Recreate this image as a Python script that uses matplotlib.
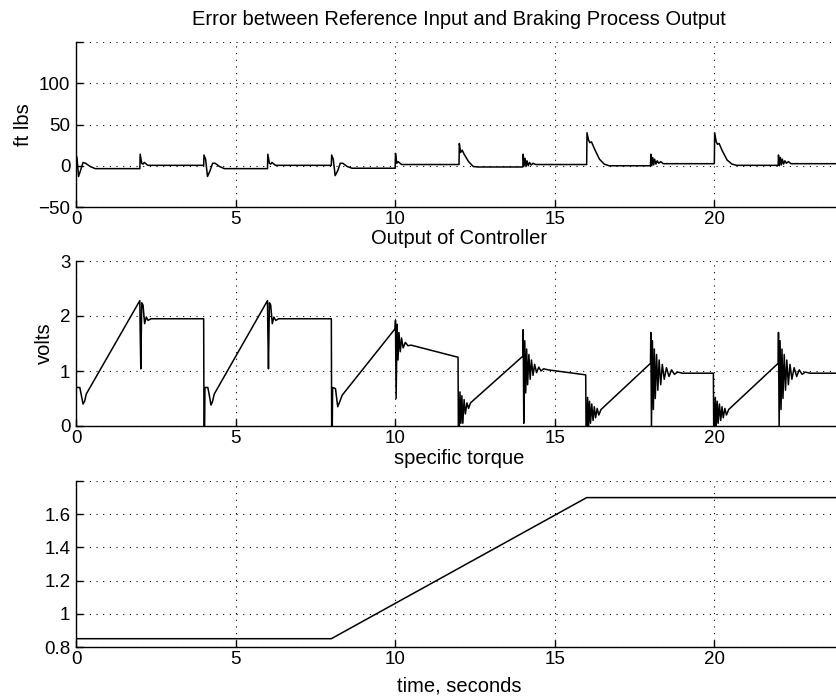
import matplotlib

matplotlib.use("Agg")
import matplotlib.pyplot as plt

# --- data ----------------------------------------------------------------

# error between reference input and braking process output (ft lbs)
ERR_T = [
    0.00, 0.03, 0.08, 0.14, 0.22, 0.30, 0.45, 0.60, 2.00, 2.01, 2.06, 2.10, 2.14, 2.25,
    4.00, 4.01, 4.06, 4.12, 4.20, 4.28, 4.36, 4.50, 4.65, 6.00, 6.01, 6.06, 6.10, 6.14, 6.25,
    8.00, 8.01, 8.06, 8.12, 8.20, 8.28, 8.36, 8.50, 8.65, 10.00, 10.01, 10.05, 10.09, 10.20,
    12.00, 12.01, 12.05, 12.10, 12.16, 12.30, 12.45, 12.60,
    14.00, 14.01, 14.04, 14.07, 14.10, 14.13, 14.17, 14.21, 14.26, 14.32, 14.40,
    16.00, 16.01, 16.06, 16.10, 16.15, 16.25, 16.40, 16.55, 16.70,
    18.00, 18.01, 18.04, 18.07, 18.10, 18.13, 18.17, 18.21, 18.26, 18.32, 18.40,
    20.00, 20.01, 20.06, 20.10, 20.15, 20.25, 20.40, 20.55, 20.70,
    22.00, 22.01, 22.04, 22.07, 22.10, 22.13, 22.17, 22.21, 22.26, 22.32, 22.40, 24.00,
]
ERR_V = [
    13, 10, -13, -6, 4, 3, -1, -3.5, -3.5, 14, 3, 2, 4, 0.5,
    0.5, 13, 8, -13, -6, 3, 3, -1, -3.5, -3.5, 14, 3, 2, 4, 0.5,
    0.5, 13, 8, -12, -6, 3, 3, -1, -3, -3, 15, 3, 5, 1.5,
    1.5, 27, 16, 19, 14, 5, -1, -1.5,
    -1.5, 14, 0, 9, -1, 6, 0, 4, 1, 3, 1.5,
    1.5, 40, 31, 28, 29, 20, 8, 2, 0,
    0, 14, 0, 10, 1, 8, 2, 6, 3, 5, 2.5,
    2.5, 40, 29, 26, 27, 18, 7, 2, 0.5,
    0.5, 13, 0, 10, 1, 8, 2, 6, 3, 5, 2.5, 2.5,
]

# output of controller (volts)
VOLT_T = [
    0.00, 0.01, 0.12, 0.17, 0.22, 0.27, 0.32, 2.00, 2.01, 2.03, 2.06, 2.10, 2.15, 2.20, 2.26, 2.35,
    4.00, 4.01, 4.03, 4.04, 4.13, 4.18, 4.23, 4.28, 4.33,
    6.00, 6.01, 6.03, 6.06, 6.10, 6.15, 6.20, 6.26, 6.35,
    8.00, 8.01, 8.03, 8.04, 8.13, 8.20, 8.27, 8.34,
    10.00, 10.01, 10.03, 10.06, 10.09, 10.12, 10.16, 10.20, 10.25, 10.32, 10.40, 10.50,
    11.97, 11.98, 12.01, 12.03, 12.06, 12.09, 12.12, 12.16, 12.20, 12.25, 12.30, 12.36,
    14.00, 14.01, 14.03, 14.06, 14.09, 14.12, 14.15, 14.19, 14.23, 14.27, 14.32, 14.37,
    14.43, 14.50, 14.57, 14.65, 14.80,
    15.97, 15.98, 16.01, 16.03, 16.06, 16.09, 16.12, 16.16, 16.20, 16.24, 16.28, 16.33,
    16.38, 16.45,
    18.00, 18.01, 18.03, 18.06, 18.09, 18.12, 18.15, 18.19, 18.23, 18.27, 18.32, 18.37,
    18.43, 18.50, 18.58, 18.66, 18.75, 18.85, 19.00,
    19.97, 19.98, 20.01, 20.03, 20.06, 20.09, 20.12, 20.16, 20.20, 20.24, 20.28, 20.33,
    20.38, 20.45,
    22.00, 22.01, 22.03, 22.06, 22.09, 22.12, 22.15, 22.19, 22.23, 22.27, 22.32, 22.37,
    22.43, 22.50, 22.58, 22.66, 22.75, 22.85, 23.00, 24.00,
]
VOLT_V = [
    0.00, 0.70, 0.70, 0.55, 0.40, 0.45, 0.58, 2.28, 1.75, 1.04, 2.24, 2.20, 1.86, 1.98, 1.92, 1.95,
    1.95, 0.00, 0.00, 0.70, 0.70, 0.55, 0.38, 0.45, 0.58,
    2.28, 1.75, 1.04, 2.24, 2.20, 1.86, 1.98, 1.92, 1.95,
    1.95, 0.00, 0.00, 0.70, 0.68, 0.35, 0.45, 0.56,
    1.77, 1.92, 0.50, 1.85, 1.20, 1.70, 1.35, 1.60, 1.42, 1.52, 1.46, 1.47,
    1.25, 0.00, 0.00, 0.62, 0.05, 0.55, 0.05, 0.48, 0.22, 0.42, 0.32, 0.42,
    1.27, 1.75, 0.05, 1.55, 0.60, 1.40, 0.75, 1.30, 0.85, 1.20, 0.92, 1.12,
    0.97, 1.07, 1.00, 1.04, 1.02,
    0.93, 0.00, 0.00, 0.52, 0.00, 0.45, 0.05, 0.40, 0.10, 0.35, 0.15, 0.32,
    0.20, 0.30,
    1.14, 1.70, 0.00, 1.55, 0.30, 1.40, 0.50, 1.30, 0.65, 1.20, 0.75, 1.12,
    0.85, 1.06, 0.90, 1.02, 0.94, 0.98, 0.96,
    0.96, 0.00, 0.00, 0.52, 0.00, 0.45, 0.05, 0.40, 0.10, 0.35, 0.15, 0.32,
    0.20, 0.30,
    1.14, 1.70, 0.00, 1.55, 0.30, 1.40, 0.50, 1.30, 0.65, 1.20, 0.75, 1.12,
    0.85, 1.06, 0.90, 1.02, 0.94, 0.98, 0.96, 0.96,
]

# specific torque
TORQUE_T = [0, 8, 16, 24]
TORQUE_V = [0.85, 0.85, 1.70, 1.70]

X_TICKS = [0, 5, 10, 15, 20]
ERR_YTICKS = [-50, 0, 50, 100, 150]
ERR_YLABELS = ["\u221250", "0", "50", "100", ""]
VOLT_YTICKS = [0, 1, 2, 3]
VOLT_YLABELS = ["0", "1", "2", "3"]
TORQUE_YTICKS = [0.8, 1.0, 1.2, 1.4, 1.6, 1.8]
TORQUE_YLABELS = ["0.8", "1", "1.2", "1.4", "1.6", ""]

plt.rcParams["font.family"] = ["Liberation Sans", "DejaVu Sans"]

W, H = 836, 698
LEFT, RIGHT = 76, 842
TEXT_SIZE = 14.5


def make_axes(fig, top_px, bottom_px):
    return fig.add_axes(
        [LEFT / W, 1 - bottom_px / H, (RIGHT - LEFT) / W, (bottom_px - top_px) / H]
    )


def style_axes(ax, yticks, ylabels, ylim):
    ax.set_xlim(0, 24)
    ax.set_ylim(*ylim)
    ax.set_xticks(X_TICKS)
    ax.set_xticklabels([str(t) for t in X_TICKS])
    ax.set_yticks(yticks)
    ax.set_yticklabels(ylabels)
    ax.spines["right"].set_visible(False)
    ax.spines["top"].set_visible(False)
    for side in ("left", "bottom"):
        ax.spines[side].set_linewidth(1.0)
    ax.tick_params(direction="in", length=5, width=1.0, labelsize=13.5, pad=4)
    ax.tick_params(axis="x", pad=3)
    ax.grid(True, color="black", linestyle=(0, (1, 5)), linewidth=0.8)
    ax.set_axisbelow(True)


fig = plt.figure(figsize=(W / 100, H / 100), dpi=100)

ax1 = make_axes(fig, 42, 207)
ax1.plot(ERR_T, ERR_V, color="black", linewidth=1.1)
style_axes(ax1, ERR_YTICKS, ERR_YLABELS, (-50, 150))
ax1.set_ylabel("ft lbs", fontsize=TEXT_SIZE)
ax1.set_title("Error between Reference Input and Braking Process Output",
              fontsize=TEXT_SIZE, pad=12)

ax2 = make_axes(fig, 261, 426)
ax2.plot(VOLT_T, VOLT_V, color="black", linewidth=1.1)
style_axes(ax2, VOLT_YTICKS, VOLT_YLABELS, (0, 3))
ax2.set_ylabel("volts", fontsize=TEXT_SIZE)
ax2.set_title("Output of Controller", fontsize=TEXT_SIZE, pad=12)

ax3 = make_axes(fig, 481, 647)
ax3.plot(TORQUE_T, TORQUE_V, color="black", linewidth=1.1)
style_axes(ax3, TORQUE_YTICKS, TORQUE_YLABELS, (0.8, 1.8))
ax3.set_title("specific torque", fontsize=TEXT_SIZE, pad=12)
ax3.set_xlabel("time, seconds", fontsize=TEXT_SIZE, labelpad=6)

fig.savefig("out.png", dpi=100)
